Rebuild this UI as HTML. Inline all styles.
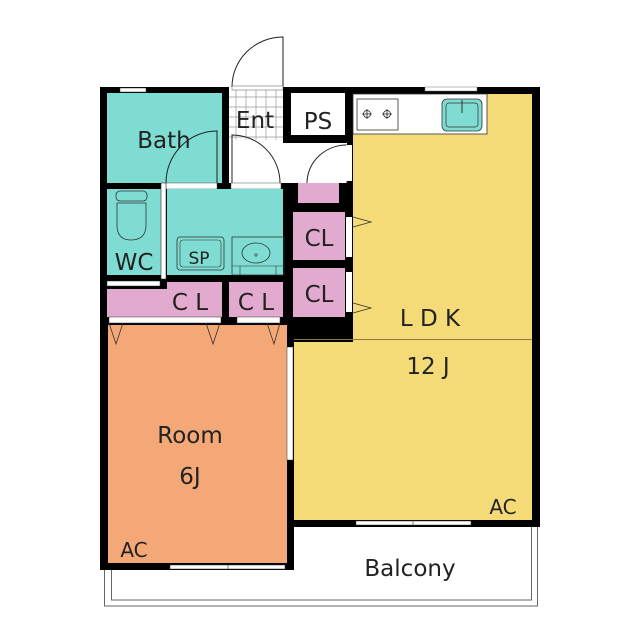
<!DOCTYPE html>
<html><head><meta charset="utf-8"><style>html,body{margin:0;padding:0;background:#fff}svg{display:block}text{font-family:"DejaVu Sans","Liberation Sans",sans-serif;fill:#222}</style></head>
<body>
<svg width="640" height="640" viewBox="0 0 640 640" xmlns="http://www.w3.org/2000/svg">
<!-- black base for walls -->
<rect x="100" y="87" width="440" height="440" fill="#000"/>
<rect x="100" y="527" width="194" height="43" fill="#000"/>
<rect x="294" y="527" width="250" height="50" fill="#fff"/>
<!-- balcony -->
<path d="M104.5 570 V606 H537.5 V527 M111.5 570 V600 H531.5 V527" fill="none" stroke="#666" stroke-width="1"/>
<!-- Ent area -->
<rect x="229" y="87" width="54" height="53" fill="#fff"/>
<g stroke="#999" stroke-width="0.7">
<path d="M229 97H283M229 107H283M229 117H283M229 127H283M229 137H283M236 87V140M246 87V140M256 87V140M266 87V140M276 87V140"/>
</g>
<rect x="229" y="140" width="54" height="43" fill="#fff"/>
<rect x="283" y="143" width="64" height="40" fill="#fff"/>
<rect x="231" y="183" width="50" height="6" fill="#fff" stroke="#555" stroke-width="0.5"/>
<!-- Bath -->
<rect x="107" y="93" width="115" height="90" fill="#7fdcd3"/>
<rect x="120" y="88" width="26" height="4" fill="#fff" stroke="#333" stroke-width="0.5"/>
<rect x="166" y="183" width="51" height="6" fill="#fff" stroke="#555" stroke-width="0.5"/>
<path d="M217 183 V131 A51 52 0 0 0 166 183" fill="none" stroke="#222" stroke-width="1"/>
<!-- WC -->
<rect x="107" y="189" width="54" height="86" fill="#7fdcd3"/>
<rect x="161" y="183" width="5" height="96" fill="#fff" stroke="#333" stroke-width="0.6"/>
<rect x="116" y="191" width="31" height="10" rx="4" fill="none" stroke="#333" stroke-width="0.8"/>
<path d="M117 203 H146 V225 Q146 240 131 240 Q117 240 117 225 Z" fill="none" stroke="#333" stroke-width="0.8"/>
<!-- Wash -->
<rect x="167" y="189" width="116" height="86" fill="#7fdcd3"/>
<rect x="177" y="237" width="47" height="33" rx="3" fill="none" stroke="#333" stroke-width="0.8"/>
<rect x="180" y="240" width="41" height="27" rx="3" fill="none" stroke="#333" stroke-width="0.6"/>
<rect x="232" y="237" width="52" height="38" fill="none" stroke="#333" stroke-width="0.8"/>
<ellipse cx="256" cy="253" rx="14" ry="10" fill="none" stroke="#333" stroke-width="0.8"/>
<circle cx="256" cy="255" r="1.2" fill="none" stroke="#333" stroke-width="0.6"/>
<path d="M232 266 H284 M240 266 V275 M276 266 V275" stroke="#333" stroke-width="0.6" fill="none"/>
<!-- CL lower -->
<rect x="107" y="281" width="53" height="5" fill="#fff" stroke="#333" stroke-width="0.5"/>
<path d="M107 289 H167 V282 H222 V317 H107 Z" fill="#e3aad0"/>
<rect x="229" y="282" width="54" height="35" fill="#e3aad0"/>
<rect x="109" y="317" width="112" height="6" fill="#fff" stroke="#333" stroke-width="0.5"/>
<rect x="237" y="317" width="43" height="6" fill="#fff" stroke="#333" stroke-width="0.5"/>
<!-- PS -->
<rect x="291" y="93" width="54" height="42" fill="#fff"/>
<!-- right closets -->
<rect x="298" y="183" width="41" height="20" fill="#e3aad0"/>
<path d="M347 183 V145 A40 38 0 0 0 307 183" fill="none" stroke="#222" stroke-width="1"/>
<rect x="293" y="212" width="52" height="48" fill="#e3aad0"/>
<rect x="293" y="268" width="52" height="49" fill="#e3aad0"/>
<rect x="346" y="145" width="6" height="36" fill="#fff"/>
<rect x="346" y="217" width="6" height="40" fill="#fff"/>
<rect x="346" y="272" width="6" height="40" fill="#fff"/>
<!-- Room -->
<rect x="108" y="325" width="179" height="238" fill="#f5a877"/>
<rect x="287" y="347" width="6" height="113" fill="#fff" stroke="#333" stroke-width="0.5"/>
<rect x="170" y="565" width="115" height="4" fill="#fff" stroke="#333" stroke-width="0.5"/>
<path d="M228 565 V569" stroke="#333" stroke-width="0.6"/>
<path d="M109 323 L116 344 L123 323 M206 323 L213 344 L220 323 M267 323 L274 344 L280 323" fill="none" stroke="#333" stroke-width="0.8"/>
<!-- LDK -->
<path d="M353 94 H532 V520 H294 V342 H353 Z" fill="#f5db78"/>
<path d="M294 339.5 H532" stroke="#8a7a40" stroke-width="1"/>
<rect x="425" y="87" width="52" height="4" fill="#fff" stroke="#777" stroke-width="0.5"/>
<rect x="356" y="521" width="115" height="4" fill="#fff" stroke="#333" stroke-width="0.5"/>
<path d="M413 520 V526" stroke="#333" stroke-width="0.6"/>
<rect x="353" y="94" width="134" height="40" fill="#fff" stroke="#333" stroke-width="0.8"/>
<rect x="357" y="99" width="41" height="31" fill="none" stroke="#333" stroke-width="0.8"/>
<g fill="none" stroke="#222" stroke-width="0.8">
<circle cx="367" cy="114" r="3.5"/><path d="M362 114H372M367 109V119"/>
<circle cx="387" cy="114" r="3.5"/><path d="M382 114H392M387 109V119"/>
</g>
<rect x="442" y="99" width="40" height="32" rx="5" fill="#7fdcd3" stroke="#333" stroke-width="0.8"/>
<rect x="446" y="103" width="32" height="24" rx="3" fill="none" stroke="#333" stroke-width="0.7"/>
<path d="M462 100 V113" stroke="#333" stroke-width="1"/>
<path d="M353 217 L371 222 L353 227 M353 303 L371 308 L353 313" fill="none" stroke="#333" stroke-width="0.8"/>
<!-- Ent door -->
<path d="M283 87 V37 A51 50 0 0 0 232 87" fill="none" stroke="#222" stroke-width="1"/>
<rect x="232" y="86" width="51" height="4" fill="#fff" stroke="#555" stroke-width="0.5"/>
<path d="M232 183 V135 A48 48 0 0 1 280 183" fill="none" stroke="#222" stroke-width="1"/>
<!-- labels -->
<g font-size="23">
<text x="164" y="148" text-anchor="middle">Bath</text>
<text x="255" y="128" text-anchor="middle">Ent</text>
<text x="318" y="129" text-anchor="middle">PS</text>
<text x="134" y="270" text-anchor="middle">WC</text>
<text x="319" y="246" text-anchor="middle">CL</text>
<text x="319" y="302" text-anchor="middle">CL</text>
<text x="190" y="310" text-anchor="middle">C L</text>
<text x="256" y="310" text-anchor="middle">C L</text>
<text x="430" y="326" text-anchor="middle">L D K</text>
<text x="428" y="374" text-anchor="middle">12 J</text>
<text x="190" y="443" text-anchor="middle">Room</text>
<text x="190" y="484" text-anchor="middle">6J</text>
<text x="410" y="576" text-anchor="middle">Balcony</text>
</g>
<text x="199" y="264" font-size="17" text-anchor="middle">SP</text>
<text x="134" y="557" font-size="20" text-anchor="middle">AC</text>
<text x="503" y="514" font-size="20" text-anchor="middle">AC</text>
</svg>
</body></html>
